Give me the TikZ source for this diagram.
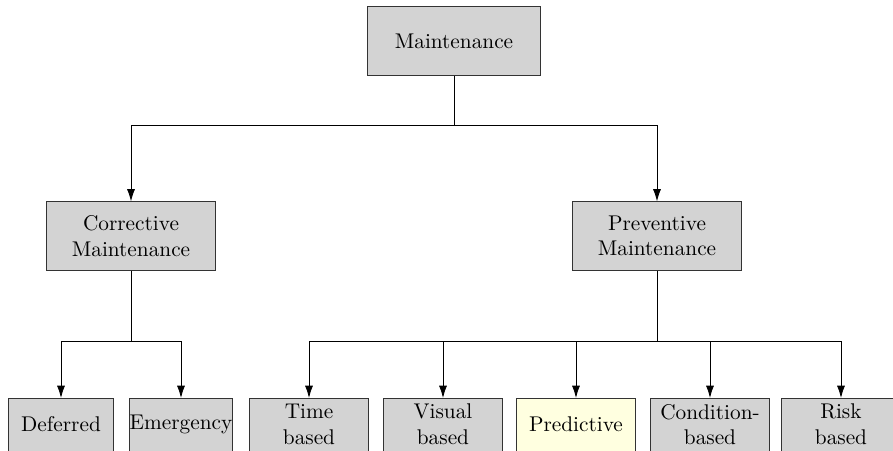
\documentclass[tikz,border=0pt]{standalone}
\usetikzlibrary{arrows.meta,backgrounds}
\definecolor{boxgray}{RGB}{211,211,211}
\definecolor{boxyellow}{RGB}{255,255,224}
\begin{document}
\begin{tikzpicture}[x=0.4695pt,y=-0.4695pt,
  box/.style={draw=black!80,fill=boxgray,line width=0.45pt,align=center,inner sep=0pt},
  topbox/.style={box,minimum width=81pt,minimum height=32pt},
  leafbox/.style={align=center,inner sep=0pt,anchor=north,minimum height=24.4pt},
  leafframe/.style={draw=black!80,line width=0.45pt},
  link/.style={line width=0.4pt,black},
  arrow/.style={link,-{Latex[length=5.8pt,width=3.8pt]}}]
\clip (0,0) rectangle (893,451);
\useasboundingbox (0,0) rectangle (893,451);

% upper levels
\node[topbox] (root) at (454,41) {Maintenance};
\node[topbox,minimum width=79pt] (corr) at (131,236) {Corrective\\Maintenance};
\node[topbox,minimum width=79pt] (prev) at (657,236) {Preventive\\Maintenance};

% leaves
\node[leafbox,minimum width=48.8pt] (def) at (61,398) {Deferred};
\node[leafbox,minimum width=48.4pt,text width=48.4pt] (emg) at (181,398) {Emergency};
\node[leafbox,minimum width=55.4pt] (time) at (309,398) {Time\\based};
\node[leafbox,minimum width=55.4pt] (vis) at (443,398) {Visual\\based};
\node[leafbox,minimum width=55.4pt] (pred) at (576,398) {Predictive};
\node[leafbox,minimum width=55.4pt] (cond) at (710,398) {Condition-\\based};
\node[leafbox,minimum width=55.4pt] (risk) at (841,398) {Risk\\based};

% leaf frames run on past the lower edge
\begin{scope}[on background layer]
  \foreach \n in {def,emg,time,vis,cond,risk}
    \filldraw[leafframe,fill=boxgray] (\n.north west) rectangle (\n.south east |- 0,480);
  \filldraw[leafframe,fill=boxyellow] (pred.north west) rectangle (pred.south east |- 0,480);
\end{scope}

% junction points
\coordinate (j1) at (root.south |- 0,125);
\coordinate (j2) at (corr.south |- 0,341);
\coordinate (j3) at (prev.south |- 0,341);

\draw[link] (root.south) -- (j1);
\draw[arrow] (j1) -| (corr.north);
\draw[arrow] (j1) -| (prev.north);

\draw[link] (corr.south) -- (j2);
\draw[arrow] (j2) -| (def.north);
\draw[arrow] (j2) -| (emg.north);

\draw[link] (prev.south) -- (j3);
\draw[arrow] (j3) -| (time.north);
\draw[arrow] (j3) -| (vis.north);
\draw[arrow] (j3) -| (pred.north);
\draw[arrow] (j3) -| (cond.north);
\draw[arrow] (j3) -| (risk.north);
\end{tikzpicture}
\end{document}
